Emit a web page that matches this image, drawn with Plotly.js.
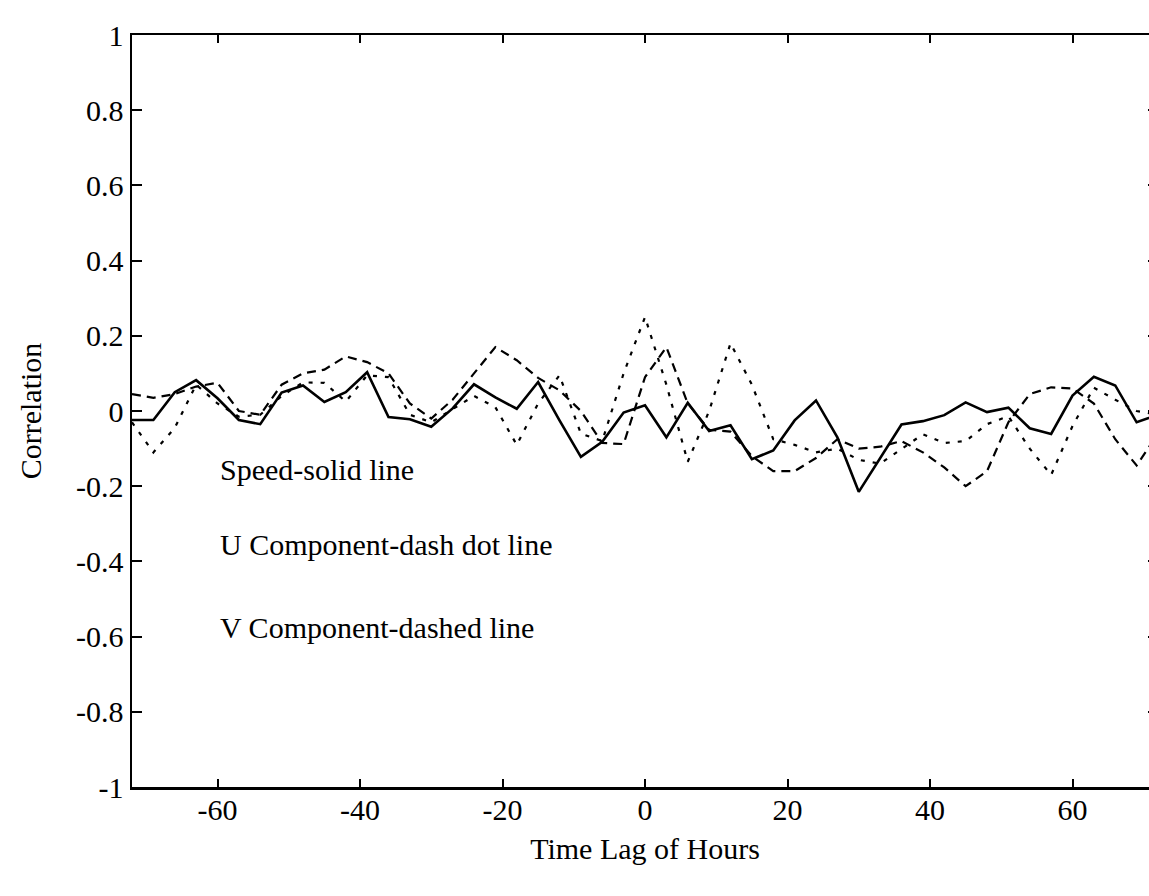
<!DOCTYPE html>
<html>
<head>
<meta charset="utf-8">
<script src="https://cdn.plot.ly/plotly-3.0.1.min.js"></script>
<style>
html, body { margin: 0; padding: 0; background: #fff; overflow: hidden; width: 1149px; height: 896px; }
#chart { width: 1162px; height: 896px; }
</style>
</head>
<body>
<div id="chart"></div>
<script>
// Time lag (hours)
const hours = [-72,-69,-66,-63,-60,-57,-54,-51,-48,-45,-42,-39,-36,-33,-30,-27,-24,-21,-18,-15,-12,-9,-6,-3,
               0,3,6,9,12,15,18,21,24,27,30,33,36,39,42,45,48,51,54,57,60,63,66,69,72];

// Speed (solid line)
const speed = [-0.024,-0.024,0.05,0.082,0.034,-0.024,-0.035,0.049,0.068,0.024,0.05,0.103,-0.016,-0.022,-0.042,0.007,0.071,0.036,0.006,0.077,-0.025,-0.122,-0.082,-0.004,
               0.015,-0.07,0.022,-0.053,-0.038,-0.128,-0.105,-0.025,0.028,-0.07,-0.215,-0.125,-0.036,-0.027,-0.011,0.023,-0.003,0.009,-0.046,-0.061,0.041,0.091,0.068,-0.03,-0.01];

// U component (dash dot line)
const uComp = [-0.03,-0.11,-0.045,0.07,0.02,-0.015,-0.01,0.04,0.076,0.075,0.025,0.095,0.09,-0.01,-0.03,0.005,0.04,0.01,-0.09,0.02,0.095,-0.06,-0.08,0.1,
               0.25,0.07,-0.135,0.0,0.18,0.07,-0.075,-0.09,-0.11,-0.1,-0.13,-0.14,-0.1,-0.062,-0.085,-0.08,-0.035,-0.014,-0.1,-0.17,-0.04,0.062,0.03,0.0,-0.01];

// V component (dashed line)
const vComp = [0.045,0.035,0.045,0.065,0.075,0.0,-0.01,0.07,0.1,0.11,0.145,0.13,0.1,0.02,-0.02,0.03,0.1,0.17,0.135,0.088,0.055,0.0,-0.085,-0.088,
               0.09,0.17,0.02,-0.05,-0.055,-0.12,-0.16,-0.16,-0.125,-0.075,-0.1,-0.095,-0.08,-0.11,-0.15,-0.2,-0.16,-0.03,0.045,0.063,0.06,0.02,-0.075,-0.145,-0.06];

const xTickVals = [-60,-40,-20,0,20,40,60];
const xTickText = ['-60','-40','-20','0','20','40','60'];
const yTickVals = [1,0.8,0.6,0.4,0.2,0,-0.2,-0.4,-0.6,-0.8,-1];
const yTickText = ['1','0.8','0.6','0.4','0.2','0','-0.2','-0.4','-0.6','-0.8','-1'];

const legendTexts = ['Speed-solid line','U Component-dash dot line','V Component-dashed line'];
const legendY = [-0.155,-0.356,-0.577];

const FONT = 'Liberation Serif, Times New Roman, serif';

const traces = [
  {x: hours, y: speed, mode: 'lines', line: {color: '#000', width: 2.6}, name: 'Speed'},
  {x: hours, y: uComp, mode: 'lines', line: {color: '#000', width: 2.2, dash: '4px,8px'}, name: 'U'},
  {x: hours, y: vComp, mode: 'lines', line: {color: '#000', width: 2.2, dash: '9px,6px'}, name: 'V'}
];

const annotations = legendTexts.map((t, i) => ({
  x: -60, y: legendY[i], xref: 'x', yref: 'y', text: t, showarrow: false,
  xanchor: 'left', yanchor: 'middle', font: {family: FONT, size: 30, color: '#000'}
}));

const layout = {
  width: 1162, height: 896,
  margin: {l: 132, r: 4, t: 35, b: 109},
  paper_bgcolor: '#fff', plot_bgcolor: '#fff',
  showlegend: false,
  font: {family: FONT, color: '#000', size: 30},
  xaxis: {
    range: [-72, 72], tickvals: xTickVals, ticktext: xTickText,
    ticks: 'inside', ticklen: 8, tickwidth: 2, tickcolor: '#000',
    showline: true, linecolor: '#000', linewidth: 2.5, mirror: 'ticks',
    showgrid: false, zeroline: false, ticklabelstandoff: -6,
    tickfont: {family: FONT, size: 30, color: '#000'},
    title: {text: 'Time Lag of Hours', font: {family: FONT, size: 30, color: '#000'}, standoff: 14}
  },
  yaxis: {
    range: [-1, 1], tickvals: yTickVals, ticktext: yTickText,
    ticks: 'inside', ticklen: 10, tickwidth: 2, tickcolor: '#000',
    showline: true, linecolor: '#000', linewidth: 2.5, mirror: 'ticks',
    showgrid: false, zeroline: false,
    tickfont: {family: FONT, size: 30, color: '#000'},
    title: {text: 'Correlation', font: {family: FONT, size: 30, color: '#000'}, standoff: 26}
  },
  annotations: annotations
};

Plotly.newPlot('chart', traces, layout, {displayModeBar: false, staticPlot: true});
</script>
</body>
</html>
